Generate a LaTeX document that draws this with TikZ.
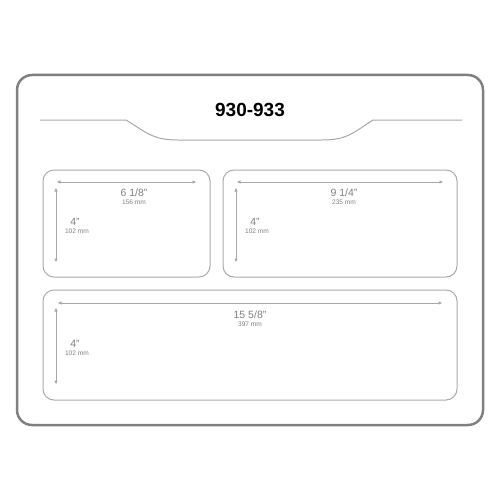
\documentclass[tikz,border=0pt]{standalone}
\usepackage{fontspec}
\setmainfont{Liberation Sans}
\usetikzlibrary{arrows.meta}
\definecolor{frame}{HTML}{808080}
\definecolor{lbl}{HTML}{AAAAAA}
\definecolor{dim}{HTML}{A8A8A8}
\definecolor{txt}{HTML}{808080}
\begin{document}
\begin{tikzpicture}[x=1pt, y=-1pt,
  labelbox/.style={draw=lbl, line width=1pt, rounded corners=11pt},
  dimline/.style={draw=dim, line width=0.7pt, {Triangle[length=3.5pt,width=3pt]}-{Triangle[length=3.5pt,width=3pt]}},
  inch/.style={text=txt, font=\fontsize{10.5}{11}\selectfont, inner sep=0pt},
  mm/.style={text=txt, font=\fontsize{6.6}{7}\selectfont, inner sep=0pt}]
\useasboundingbox (0,0) rectangle (500,500);
% sheet
\draw[frame, line width=2.5pt, rounded corners=15pt] (17,75) rectangle (483,425);
\node[font=\bfseries\fontsize{19}{20}\selectfont, inner sep=0pt] (title) at (250,110) {930-933};
\draw[dim, line width=1pt] (40,120) -- (126,120) .. controls (146,132) and (152,140) .. (178,140)
  -- (322,140) .. controls (348,140) and (354,132) .. (373,120) -- (462,120);
% labels
\draw[labelbox] (43,170) rectangle (210,277);
\draw[labelbox] (223,170) rectangle (457,277);
\draw[labelbox] (43,290) rectangle (457,400);
% label 1
\coordinate (A1) at (57,182);
\coordinate (B1) at (196,182);
\coordinate (C1) at (56,188);
\coordinate (D1) at (56,262);
\draw[dimline] (A1) -- (B1);
\draw[dimline] (C1) -- (D1);
\node[inch] (W1) at (134,193) {6 1/8"};
\node[mm] (w1) at (134,202) {156 mm};
\node[inch] (H1) at (75,222) {4"};
\node[mm] (h1) at (77,231) {102 mm};
% label 2
\coordinate (A2) at (237,182);
\coordinate (B2) at (443,182);
\coordinate (C2) at (236,188);
\coordinate (D2) at (236,262);
\draw[dimline] (A2) -- (B2);
\draw[dimline] (C2) -- (D2);
\node[inch] (W2) at (344,193) {9 1/4"};
\node[mm] (w2) at (344,202) {235 mm};
\node[inch] (H2) at (255,222) {4"};
\node[mm] (h2) at (257,231) {102 mm};
% label 3
\coordinate (A3) at (58,303);
\coordinate (B3) at (442,303);
\coordinate (C3) at (56,308);
\coordinate (D3) at (56,384);
\draw[dimline] (A3) -- (B3);
\draw[dimline] (C3) -- (D3);
\node[inch] (W3) at (250,315) {15 5/8"};
\node[mm] (w3) at (250,324) {397 mm};
\node[inch] (H3) at (75,344) {4"};
\node[mm] (h3) at (77,353) {102 mm};
\end{tikzpicture}
\end{document}
